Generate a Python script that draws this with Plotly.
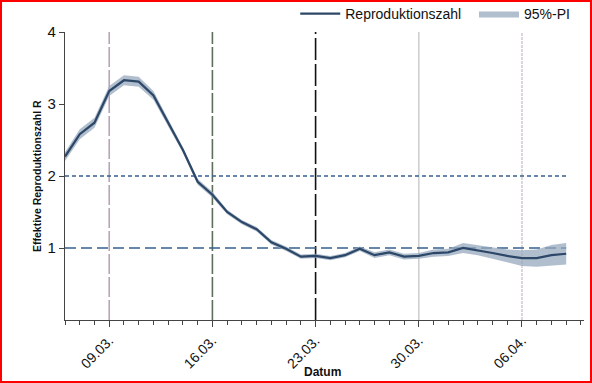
import plotly.graph_objects as go
import pandas as pd

dates = pd.date_range("2020-03-06", "2020-04-09", freq="D")
r_values = [2.27, 2.58, 2.74, 3.18, 3.33, 3.31, 3.12, 2.74, 2.36, 1.92, 1.74,
            1.50, 1.36, 1.26, 1.08, 0.99, 0.88, 0.89, 0.86, 0.90, 0.99, 0.90,
            0.94, 0.88, 0.89, 0.93, 0.94, 1.00, 0.97, 0.93, 0.89, 0.86, 0.86,
            0.90, 0.92]
half_width = [0.06, 0.07, 0.07, 0.07, 0.07, 0.07, 0.06, 0.05, 0.04, 0.04, 0.04,
              0.03, 0.03, 0.03, 0.03, 0.03, 0.03, 0.03, 0.03, 0.03, 0.03, 0.04,
              0.04, 0.04, 0.04, 0.05, 0.05, 0.07, 0.07, 0.08, 0.09, 0.11, 0.12,
              0.14, 0.15]
lower = [round(v - h, 3) for v, h in zip(r_values, half_width)]
upper = [round(v + h, 3) for v, h in zip(r_values, half_width)]

event_dates = ["2020-03-09", "2020-03-16", "2020-03-23", "2020-03-30", "2020-04-06"]
event_colors = ["#b8a4b8", "#5d6e5a", "#111111", "#cfcfcf", "#d6cbd6"]
event_dashes = ["20px,3px", "20px,3px", "22px,4px", "solid", "3px,1px"]
ref_levels = [2, 1]
ref_dashes = ["4px,3px", "11px,5px"]

fig = go.Figure()
fig.add_trace(go.Scatter(x=dates, y=upper, mode="lines", line=dict(width=0, color="#a9b8c8"),
                         showlegend=False, hoverinfo="skip"))
fig.add_trace(go.Scatter(x=dates, y=lower, mode="lines", line=dict(width=0, color="#a9b8c8"),
                         fill="tonexty", fillcolor="rgba(150,168,190,0.75)", name="95%-PI",
                         legendrank=2))
fig.add_trace(go.Scatter(x=dates, y=r_values, mode="lines", line=dict(width=2.2, color="#2c4767"),
                         name="Reproduktionszahl" + "\u00a0" * 2, legendrank=1))

for d, c, ds in zip(event_dates, event_colors, event_dashes):
    fig.add_shape(type="line", xref="x", yref="y", x0=d, x1=d, y0=0, y1=4,
                  line=dict(color=c, width=1.6, dash=ds), layer="below")
for lv, ds in zip(ref_levels, ref_dashes):
    fig.add_shape(type="line", xref="x", yref="y", x0=dates[0], x1=dates[-1], y0=lv, y1=lv,
                  line=dict(color="#35608f", width=1.6, dash=ds), layer="below")

W, H = 592, 383
L, R, T, B = 65, 8, 32, 63
pw, ph = W - L - R, H - T - B
fig.add_shape(type="rect", xref="paper", yref="paper",
              x0=-(L - 1) / pw, x1=1 + (R - 1) / pw, y0=-(B - 1) / ph, y1=1 + (T - 1) / ph,
              line=dict(color="#ff0000", width=2), layer="above")

fig.add_annotation(text="<b>Datum</b>", xref="paper", yref="paper",
                   x=(322 - L) / pw, y=-(372 - T - ph) / ph, showarrow=False,
                   font=dict(size=12), xanchor="center", yanchor="middle")
fig.add_annotation(text="<b>Effektive Reproduktionszahl R</b>", xref="paper", yref="paper",
                   x=(37 - L) / pw, y=(320 - 176) / ph, showarrow=False, textangle=-90,
                   font=dict(size=10.5), xanchor="center", yanchor="middle")

fig.update_layout(
    width=W, height=H,
    margin=dict(l=L, r=R, t=T, b=B, autoexpand=False),
    paper_bgcolor="white", plot_bgcolor="white",
    font=dict(family="Liberation Sans, Arial, sans-serif", size=12, color="#111111"),
    showlegend=True,
    legend=dict(orientation="h", x=582 / W, xanchor="right", yref="container",
                y=1 - 14 / H, yanchor="middle",
                font=dict(size=14), traceorder="normal", itemwidth=40,
                bgcolor="rgba(0,0,0,0)"),
    xaxis=dict(
        range=["2020-03-06", "2020-04-10 05:00"], automargin=False,
        tickmode="linear", tick0="2020-03-09", dtick=7 * 86400000,
        tickformat="%d.%m.", tickangle=-45,
        ticks="outside", ticklen=6, tickcolor="#444", showline=True, linecolor="#444",
        linewidth=1.2, showgrid=False, zeroline=False,
        minor=dict(dtick=86400000, ticks="outside", ticklen=4, tickcolor="#444", showgrid=False),
        tickfont=dict(size=14),
    ),
    yaxis=dict(
        range=[0, 4], tickvals=[1, 2, 3, 4], ticks="outside", ticklen=5, automargin=False,
        tickcolor="#444", showline=True, linecolor="#444", linewidth=1.2,
        showgrid=False, zeroline=False, tickfont=dict(size=15),
    ),
)

fig.write_html("out.html", config={"displayModeBar": False},
               post_script="document.body.style.margin='0';document.body.style.overflow='hidden';")
